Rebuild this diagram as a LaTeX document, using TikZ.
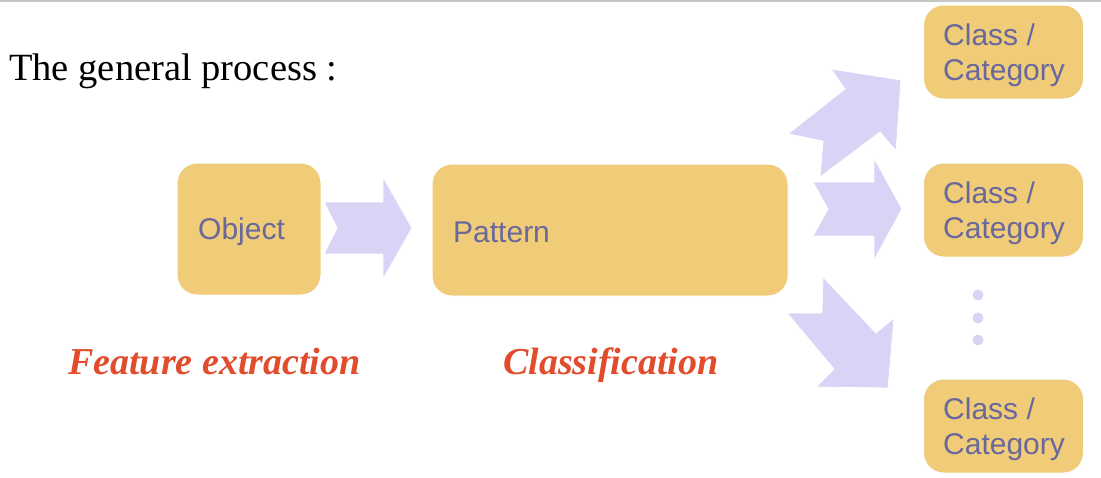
\documentclass[tikz,border=0pt]{standalone}
\usepackage{fontspec}
\setmainfont{Liberation Serif}
\newfontfamily\boxfont{Liberation Sans}
\begin{document}
\begin{tikzpicture}[x=1pt,y=-1pt,
  boxst/.style={rectangle, rounded corners=20pt, fill=boxfill, draw=white, line width=1pt,
    inner sep=0pt, font=\boxfont\fontsize{30}{36}\selectfont, text=boxtext},
  boxtextst/.style={anchor=west, inner sep=0pt, align=left, font=\boxfont\fontsize{30}{35}\selectfont, text=boxtext},
  arrowst/.style={fill=arrowfill, draw=white, line width=0.8pt},
  labelst/.style={font=\fontsize{38}{42}\selectfont\bfseries\itshape, text=labelred, inner sep=0pt},
  dotst/.style={circle, fill=arrowfill, minimum size=11pt, inner sep=0pt}]
\definecolor{boxfill}{RGB}{240,204,120}
\definecolor{boxtext}{RGB}{104,104,156}
\definecolor{arrowfill}{RGB}{216,212,246}
\definecolor{labelred}{RGB}{224,76,44}
\useasboundingbox (0,0) rectangle (1101,477);
\fill[white] (0,0) rectangle (1101,477);
\draw[gray!45, line width=2pt] (0,1) -- (1101,1);
% title
\node[anchor=base west, inner sep=0pt, font=\fontsize{38.5}{42}\selectfont] (title) at (9,80) {The general process :};
% boxes
\node[boxst, minimum width=144pt, minimum height=132pt] (object) at (249,229) {};
\node[boxtextst] (objtext) at (198,232) {Object};
\node[boxst, minimum width=356pt, minimum height=132pt] (pattern) at (610,230) {};
\node[boxtextst] (pattext) at (453,232) {Pattern};
\foreach \n/\y in {c1/52, c2/210, c3/426}{
  \node[boxst, minimum width=160pt, minimum height=94pt] (\n) at (1003.5,\y) {};
  \node[boxtextst] (\n t) at (943,\y+3) {Class /\\Category};
}
% arrows
\fill[arrowst] (324,202) -- (383,202) -- (383,177) -- (412,228) -- (383,279) -- (383,254) -- (324,254) -- (337,228) -- cycle;
\fill[arrowst] (813,182) -- (874,182) -- (874,158) -- (902,209) -- (874,260) -- (874,236) -- (813,236) -- (828,209) -- cycle;
\fill[arrowst] (901,80) -- (831,69) -- (845,89) -- (788,134) -- (823,141) -- (820,177) -- (880,132) -- (896,151) -- cycle;
\fill[arrowst] (823,277) -- (876,333) -- (894,318) -- (888,388) -- (816,387) -- (834,369) -- (787,313) -- (822,313) -- cycle;
% dots
\node[dotst] (d1) at (978,295) {};
\node[dotst] (d2) at (978,318) {};
\node[dotst] (d3) at (978,340) {};
% labels
\node[labelst, anchor=base west] (fe) at (68,374) {Feature extraction};
\node[labelst, anchor=base west] (cl) at (503,374) {Classification};
\end{tikzpicture}
\end{document}
